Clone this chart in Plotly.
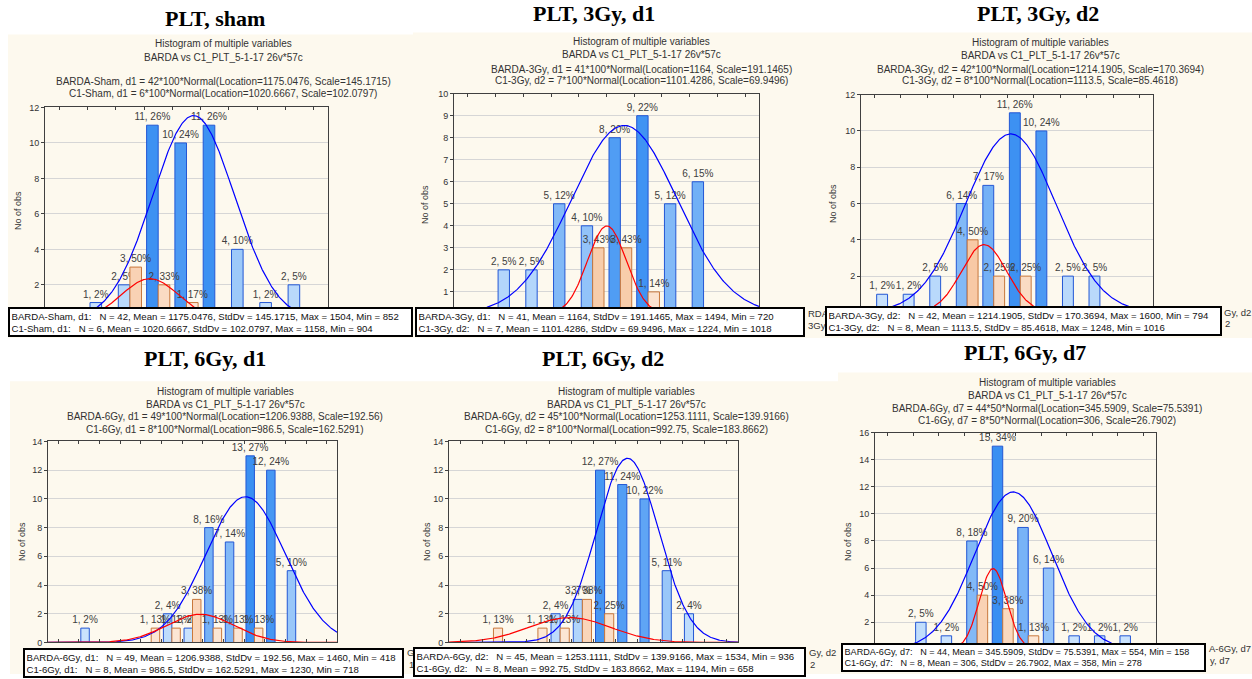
import numpy as np
import plotly.graph_objects as go

# ---------------- data ----------------
TITLES = ["PLT, sham", "PLT, 3Gy, d1", "PLT, 3Gy, d2", "PLT, 6Gy, d1", "PLT, 6Gy, d2", "PLT, 6Gy, d7"]
SUBTITLE_1 = "Histogram of multiple variables"
SUBTITLE_2 = "BARDA vs C1_PLT_5-1-17 26v*57c"
BARDA_NAMES = ["BARDA-Sham, d1", "BARDA-3Gy, d1", "BARDA-3Gy, d2", "BARDA-6Gy, d1", "BARDA-6Gy, d2", "BARDA-6Gy, d7"]
C1_NAMES = ["C1-Sham, d1", "C1-3Gy, d2", "C1-3Gy, d2", "C1-6Gy, d1", "C1-6Gy, d2", "C1-6Gy, d7"]
BIN_WIDTHS = [100, 100, 100, 100, 100, 50]

SHAM_BINS = [850, 950, 1050, 1150, 1250, 1350, 1450, 1550]
SHAM_BARDA = [1, 2, 11, 10, 11, 4, 1, 2]
SHAM_C1 = [0, 3, 2, 1, 0, 0, 0, 0]

G3D1_BINS = [750, 850, 950, 1050, 1150, 1250, 1350, 1450]
G3D1_BARDA = [2, 2, 5, 4, 8, 9, 5, 6]
G3D1_C1 = [0, 0, 0, 3, 3, 1, 0, 0]

G3D2_BINS = [750, 850, 950, 1050, 1150, 1250, 1350, 1450, 1550]
G3D2_BARDA = [1, 1, 2, 6, 7, 11, 10, 2, 2]
G3D2_C1 = [0, 0, 0, 4, 2, 2, 0, 0, 0]

G6D1_BINS = [450, 550, 650, 750, 850, 950, 1050, 1150, 1250, 1350, 1450]
G6D1_BARDA = [1, 0, 0, 0, 2, 1, 8, 7, 13, 12, 5]
G6D1_C1 = [0, 0, 0, 1, 1, 3, 1, 1, 1, 0, 0]

G6D2_BINS = [650, 750, 850, 950, 1050, 1150, 1250, 1350, 1450, 1550]
G6D2_BARDA = [0, 0, 0, 2, 3, 12, 11, 10, 5, 2]
G6D2_C1 = [1, 0, 1, 1, 3, 2, 0, 0, 0, 0]

G6D7_BINS = [175, 225, 275, 325, 375, 425, 475, 525, 575]
G6D7_BARDA = [2, 1, 8, 15, 9, 6, 1, 1, 1]
G6D7_C1 = [0, 0, 4, 3, 1, 0, 0, 0, 0]

BARDA_N = [42, 41, 42, 49, 45, 44]
BARDA_MEAN = [1175.0476, 1164, 1214.1905, 1206.9388, 1253.1111, 345.5909]
BARDA_SD = [145.1715, 191.1465, 170.3694, 192.56, 139.9166, 75.5391]
BARDA_MAX = [1504, 1494, 1600, 1460, 1534, 554]
BARDA_MIN = [852, 720, 794, 418, 936, 158]

C1_N = [6, 7, 8, 8, 8, 8]
C1_MEAN = [1020.6667, 1101.4286, 1113.5, 986.5, 992.75, 306]
C1_SD = [102.0797, 69.9496, 85.4618, 162.5291, 183.8662, 26.7902]
C1_MAX = [1158, 1224, 1248, 1230, 1194, 358]
C1_MIN = [904, 1018, 1016, 718, 658, 278]

# visible pieces of the legends that peek out from behind the statistics boxes
LEGEND_PIECES = [[], ["RDA", "3Gy"], ["Gy, d2", "2"], ["G", "1"], ["Gy, d2", "2"], ["A-6Gy, d7", "y, d7"]]

BINS = [SHAM_BINS, G3D1_BINS, G3D2_BINS, G6D1_BINS, G6D2_BINS, G6D7_BINS]
BARDA = [SHAM_BARDA, G3D1_BARDA, G3D2_BARDA, G6D1_BARDA, G6D2_BARDA, G6D7_BARDA]
C1 = [SHAM_C1, G3D1_C1, G3D2_C1, G6D1_C1, G6D2_C1, G6D7_C1]

# ---------------- layout (pixel geometry) ----------------
W, H = 1252, 679
GEOM = [
    dict(plot=(45, 104, 328, 320), xr=(650, 1650), ymax=12, ydt=2, zero=False, title=(215, 14), subx=223,
         suby=(39, 53, 78, 90), ylab=(18, 209), box=(8, 307, 413, 334), boxfont=9.6, leg=[],
         cream=(8, 30, 413, 338)),
    dict(plot=(454, 90, 759, 313.5), xr=(550, 1650), ymax=10, ydt=1, zero=False, title=(594, 9), subx=641,
         suby=(37, 50, 65, 77), ylab=(425, 203), box=(415, 307, 805, 334), boxfont=9.6,
         leg=[(806, 313), (806, 325)], cream=(413, 28, 830, 338)),
    dict(plot=(861, 91, 1153, 312), xr=(650, 1750), ymax=12, ydt=2, zero=False, title=(1038, 9), subx=1040,
         suby=(38, 51, 65, 77), ylab=(833, 202), box=(825, 306, 1222, 332), boxfont=9.6,
         leg=[(1222, 312), (1223, 323)], cream=(830, 28, 1252, 338)),
    dict(plot=(48, 443, 337, 647), xr=(250, 1650), ymax=14, ydt=2, zero=True, title=(205, 359), subx=225,
         suby=(392, 405, 418, 431), ylab=(22, 545), box=(23, 653, 404, 678), boxfont=9.6,
         leg=[(405, 657), (407, 669)], cream=(10, 382, 413, 679)),
    dict(plot=(449, 443, 738, 647), xr=(450, 1750), ymax=14, ydt=2, zero=True, title=(603, 359), subx=626,
         suby=(392, 405, 418, 431), ylab=(427, 545), box=(413, 652, 806, 678), boxfont=9.6,
         leg=[(807, 657), (808, 669)], cream=(413, 382, 838, 679)),
    dict(plot=(875, 434, 1156, 654), xr=(75, 625), ymax=16, ydt=2, zero=False, title=(1025, 353), subx=1047,
         suby=(383, 396, 410, 422), ylab=(848, 545), box=(841, 648, 1206, 673), boxfont=9.1,
         leg=[(1207, 653), (1208, 665)], cream=(838, 373, 1252, 679)),
]

SANS = "Liberation Sans, Arial, sans-serif"
SERIF = "Liberation Serif, Times New Roman, serif"
CREAM = "#fdf9ee"
TXT = "#333333"


def fmt(v):
    return f"{v:.4f}".rstrip("0").rstrip(".")


def pct(c, n):
    return int(100.0 * c / n + 0.5)


def mix(c0, c1, t):
    t = max(0.0, min(1.0, t))
    return "rgb(%d,%d,%d)" % tuple(round(a + (b - a) * t) for a, b in zip(c0, c1))


def normal_curve(xs, n, bw, loc, scale):
    return n * bw * np.exp(-0.5 * ((xs - loc) / scale) ** 2) / (scale * np.sqrt(2 * np.pi))


BLUE_LIGHT, BLUE_DARK = (222, 239, 254), (28, 126, 240)
ORANGE_LIGHT, ORANGE_DARK = (253, 240, 229), (246, 186, 140)

fig = go.Figure()
shapes = []
annotations = []
layout = {}

for i in range(6):
    g = GEOM[i]
    n = "" if i == 0 else str(i + 1)
    xa, ya = "x" + n, "y" + n
    bw = BIN_WIDTHS[i]
    ymax = g["ymax"]

    # bars
    for counts, N, fill0, fill1, lc, scale_t in (
        (BARDA[i], BARDA_N[i], BLUE_LIGHT, BLUE_DARK, "#2357d4", 0.85),
        (C1[i], C1_N[i], ORANGE_LIGHT, ORANGE_DARK, "#c8783c", 2.0),
    ):
        bx = [b for b, c in zip(BINS[i], counts) if c > 0]
        by = [c for c in counts if c > 0]
        fig.add_trace(go.Bar(
            x=bx, y=by, xaxis=xa, yaxis=ya,
            marker=dict(color=[mix(fill0, fill1, 0.05 + scale_t * c / ymax) for c in by],
                        line=dict(color=lc, width=1)),
            text=[f"{c}, {pct(c, N)}%" for c in by],
            textposition="outside", textangle=0, constraintext="none", cliponaxis=False,
            textfont=dict(family=SANS, size=10, color="#404040"),
            showlegend=False, hoverinfo="skip",
        ))

    # fitted normal curves
    xs = np.linspace(g["xr"][0], g["xr"][1], 400)
    fig.add_trace(go.Scatter(x=xs, y=normal_curve(xs, BARDA_N[i], bw, BARDA_MEAN[i], BARDA_SD[i]),
                             mode="lines", line=dict(color="#0000ff", width=1.2),
                             xaxis=xa, yaxis=ya, showlegend=False, hoverinfo="skip"))
    fig.add_trace(go.Scatter(x=xs, y=normal_curve(xs, C1_N[i], bw, C1_MEAN[i], C1_SD[i]),
                             mode="lines", line=dict(color="#ff0000", width=1.2),
                             xaxis=xa, yaxis=ya, showlegend=False, hoverinfo="skip"))

    x0, y0, x1, y1 = g["plot"]
    start = 0 if g["zero"] else g["ydt"]
    yt = list(range(start, ymax + 1, g["ydt"]))
    layout["xaxis" + n] = dict(domain=[x0 / W, x1 / W], range=list(g["xr"]), anchor=ya,
                               showticklabels=False, ticks="inside", ticklen=3, tickcolor="#404040",
                               tick0=0, dtick=bw, showline=True, linecolor="#404040", linewidth=1,
                               mirror="ticks", showgrid=False, zeroline=False, fixedrange=True)
    layout["yaxis" + n] = dict(domain=[1 - y1 / H, 1 - y0 / H], range=[0, ymax], anchor=xa,
                               tickmode="array", tickvals=yt, ticks="outside", ticklen=3,
                               tickcolor="#404040", tickfont=dict(family=SANS, size=9, color=TXT),
                               showline=True, linecolor="#404040", linewidth=1, mirror=True,
                               showgrid=True, gridcolor="#d6d6d6", gridwidth=1, zeroline=False,
                               fixedrange=True)

    # cream panel background
    cx0, cy0, cx1, cy1 = g["cream"]
    shapes.append(dict(type="rect", xref="paper", yref="paper", x0=cx0 / W, x1=cx1 / W,
                       y0=1 - cy1 / H, y1=1 - cy0 / H, fillcolor=CREAM, line=dict(width=0), layer="below"))

    # texts
    tx, ty = g["title"]
    annotations.append(dict(xref="paper", yref="paper", x=tx / W, y=1 - ty / H, xanchor="center",
                            yanchor="middle", text=f"<b>{TITLES[i]}</b>", showarrow=False,
                            font=dict(family=SERIF, size=22, color="black")))
    subs = [SUBTITLE_1, SUBTITLE_2,
            f"{BARDA_NAMES[i]} = {BARDA_N[i]}*{bw}*Normal(Location={fmt(BARDA_MEAN[i])}, Scale={fmt(BARDA_SD[i])})",
            f"{C1_NAMES[i]} = {C1_N[i]}*{bw}*Normal(Location={fmt(C1_MEAN[i])}, Scale={fmt(C1_SD[i])})"]
    for s, sy in zip(subs, g["suby"]):
        annotations.append(dict(xref="paper", yref="paper", x=g["subx"] / W, y=1 - sy / H,
                                xanchor="center", yanchor="middle", text=s, showarrow=False,
                                font=dict(family=SANS, size=10, color=TXT)))
    lx, ly = g["ylab"]
    annotations.append(dict(xref="paper", yref="paper", x=lx / W, y=1 - ly / H, xanchor="center",
                            yanchor="middle", text="No of obs", textangle=-90, showarrow=False,
                            font=dict(family=SANS, size=9, color=TXT)))

    # legend pieces peeking out at the right of the box
    for piece, (px, py) in zip(LEGEND_PIECES[i], g["leg"]):
        annotations.append(dict(xref="paper", yref="paper", x=px / W, y=1 - py / H, xanchor="left",
                                yanchor="middle", text=piece, showarrow=False,
                                font=dict(family=SANS, size=9.5, color=TXT)))

for i in range(6):
    g = GEOM[i]
    bx0, by0, bx1, by1 = g["box"]
    sp = "\u00a0" * 3
    line1 = (f"{BARDA_NAMES[i]}:{sp}N = {BARDA_N[i]}, Mean = {fmt(BARDA_MEAN[i])}, "
             f"StdDv = {fmt(BARDA_SD[i])}, Max = {BARDA_MAX[i]}, Min = {BARDA_MIN[i]}")
    line2 = (f"{C1_NAMES[i]}:{sp}N = {C1_N[i]}, Mean = {fmt(C1_MEAN[i])}, "
             f"StdDv = {fmt(C1_SD[i])}, Max = {C1_MAX[i]}, Min = {C1_MIN[i]}")
    bwid, pad = 2, 1.5
    annotations.append(dict(xref="paper", yref="paper", x=bx0 / W, y=1 - by0 / H, xanchor="left",
                            yanchor="top", align="left", text=line1 + "<br>" + line2,
                            width=(bx1 - bx0) - 2 * (bwid + pad),
                            bgcolor="white", bordercolor="black", borderwidth=bwid, borderpad=pad,
                            showarrow=False, font=dict(family=SANS, size=g["boxfont"], color="#111111")))

fig.update_layout(
    width=W, height=H, autosize=False,
    margin=dict(l=0, r=0, t=0, b=0, pad=0),
    paper_bgcolor="white", plot_bgcolor="white",
    barmode="group", bargap=0.18, bargroupgap=0.0,
    showlegend=False, shapes=shapes, annotations=annotations,
    **layout,
)

fig.write_html("out.html")
